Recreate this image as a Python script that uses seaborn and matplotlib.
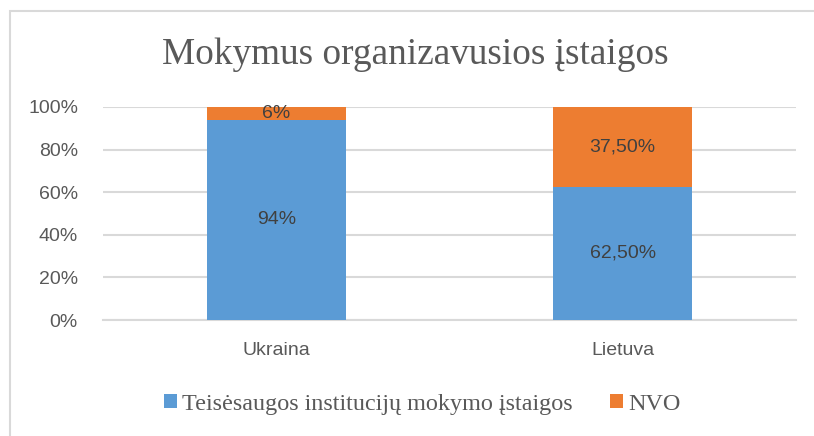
import matplotlib
matplotlib.use("Agg")
import matplotlib.pyplot as plt
import seaborn as sns
import pandas as pd
from matplotlib.patches import Rectangle, Patch

categories = ["Ukraina", "Lietuva"]
series_names = ["Teisėsaugos institucijų mokymo įstaigos", "NVO"]
teises = [94.0, 62.5]
nvo = [6.0, 37.5]
teises_labels = ["94%", "62,50%"]
nvo_labels = ["6%", "37,50%"]
yticks = [0, 20, 40, 60, 80, 100]
ytick_labels = ["0%", "20%", "40%", "60%", "80%", "100%"]
title = "Mokymus organizavusios įstaigos"

colors = ["#5B9BD5", "#ED7D31"]

sns.set_theme(style="white")
plt.rcParams["font.family"] = ["Liberation Sans", "DejaVu Sans"]

df = pd.DataFrame({"cat": categories, "teises": teises, "nvo": nvo})
df["total"] = df["teises"] + df["nvo"]

fig = plt.figure(figsize=(8.14, 4.36), dpi=100)
ax = fig.add_axes([103/814, 1-320/436, (796-103)/814, (320-107)/436])

sns.barplot(data=df, x="cat", y="total", color=colors[1], width=0.4,
            saturation=1, ax=ax, linewidth=0, zorder=3)
sns.barplot(data=df, x="cat", y="teises", color=colors[0], width=0.4,
            saturation=1, ax=ax, linewidth=0, zorder=3)

for i, (b, v, lb, lt) in enumerate(zip(teises, nvo, teises_labels, nvo_labels)):
    ax.text(i, b / 2, lb, ha="center", va="center", fontsize=14,
            color="#404040", zorder=5)
    ax.text(i, b + v / 2, lt, ha="center", va="center", fontsize=14,
            color="#404040", zorder=5)

ax.set_xlim(-0.5, 1.5)
ax.set_ylim(0, 100)
ax.set_yticks(yticks)
ax.set_yticklabels(ytick_labels)
ax.set_xlabel("")
ax.set_ylabel("")
ax.tick_params(axis="y", length=0, pad=18, labelsize=14, labelcolor="#595959")
ax.tick_params(axis="x", length=0, pad=16, labelsize=14, labelcolor="#595959")
ax.yaxis.grid(True, color="#D9D9D9", linewidth=1.5, zorder=0)
ax.xaxis.grid(False)
for s in ["left", "right", "top"]:
    ax.spines[s].set_visible(False)
ax.spines["bottom"].set_color("#D9D9D9")
ax.spines["bottom"].set_linewidth(1.5)
ax.set_axisbelow(True)

fig.text(415/814, 1-64/436, title, ha="center", va="baseline",
         fontsize=26.8, color="#595959", family=["Liberation Serif", "DejaVu Serif"])

handles = [Patch(facecolor=c, edgecolor="none") for c in colors]
fig.legend(handles, series_names, loc="center", bbox_to_anchor=(422/814, 1-404/436),
           ncol=2, frameon=False, handlelength=0.55, handleheight=0.55,
           handletextpad=0.2, columnspacing=1.55,
           prop={"family": ["Liberation Serif", "DejaVu Serif"], "size": 17.4},
           labelcolor="#595959")

fig.patches.append(Rectangle((9.5/814, 0 - 0.05), 1.1, 1 - 10.5/436 + 0.05,
                             transform=fig.transFigure, fill=False,
                             edgecolor="#D9D9D9", linewidth=1.5))

fig.savefig("out.png", dpi=100)
